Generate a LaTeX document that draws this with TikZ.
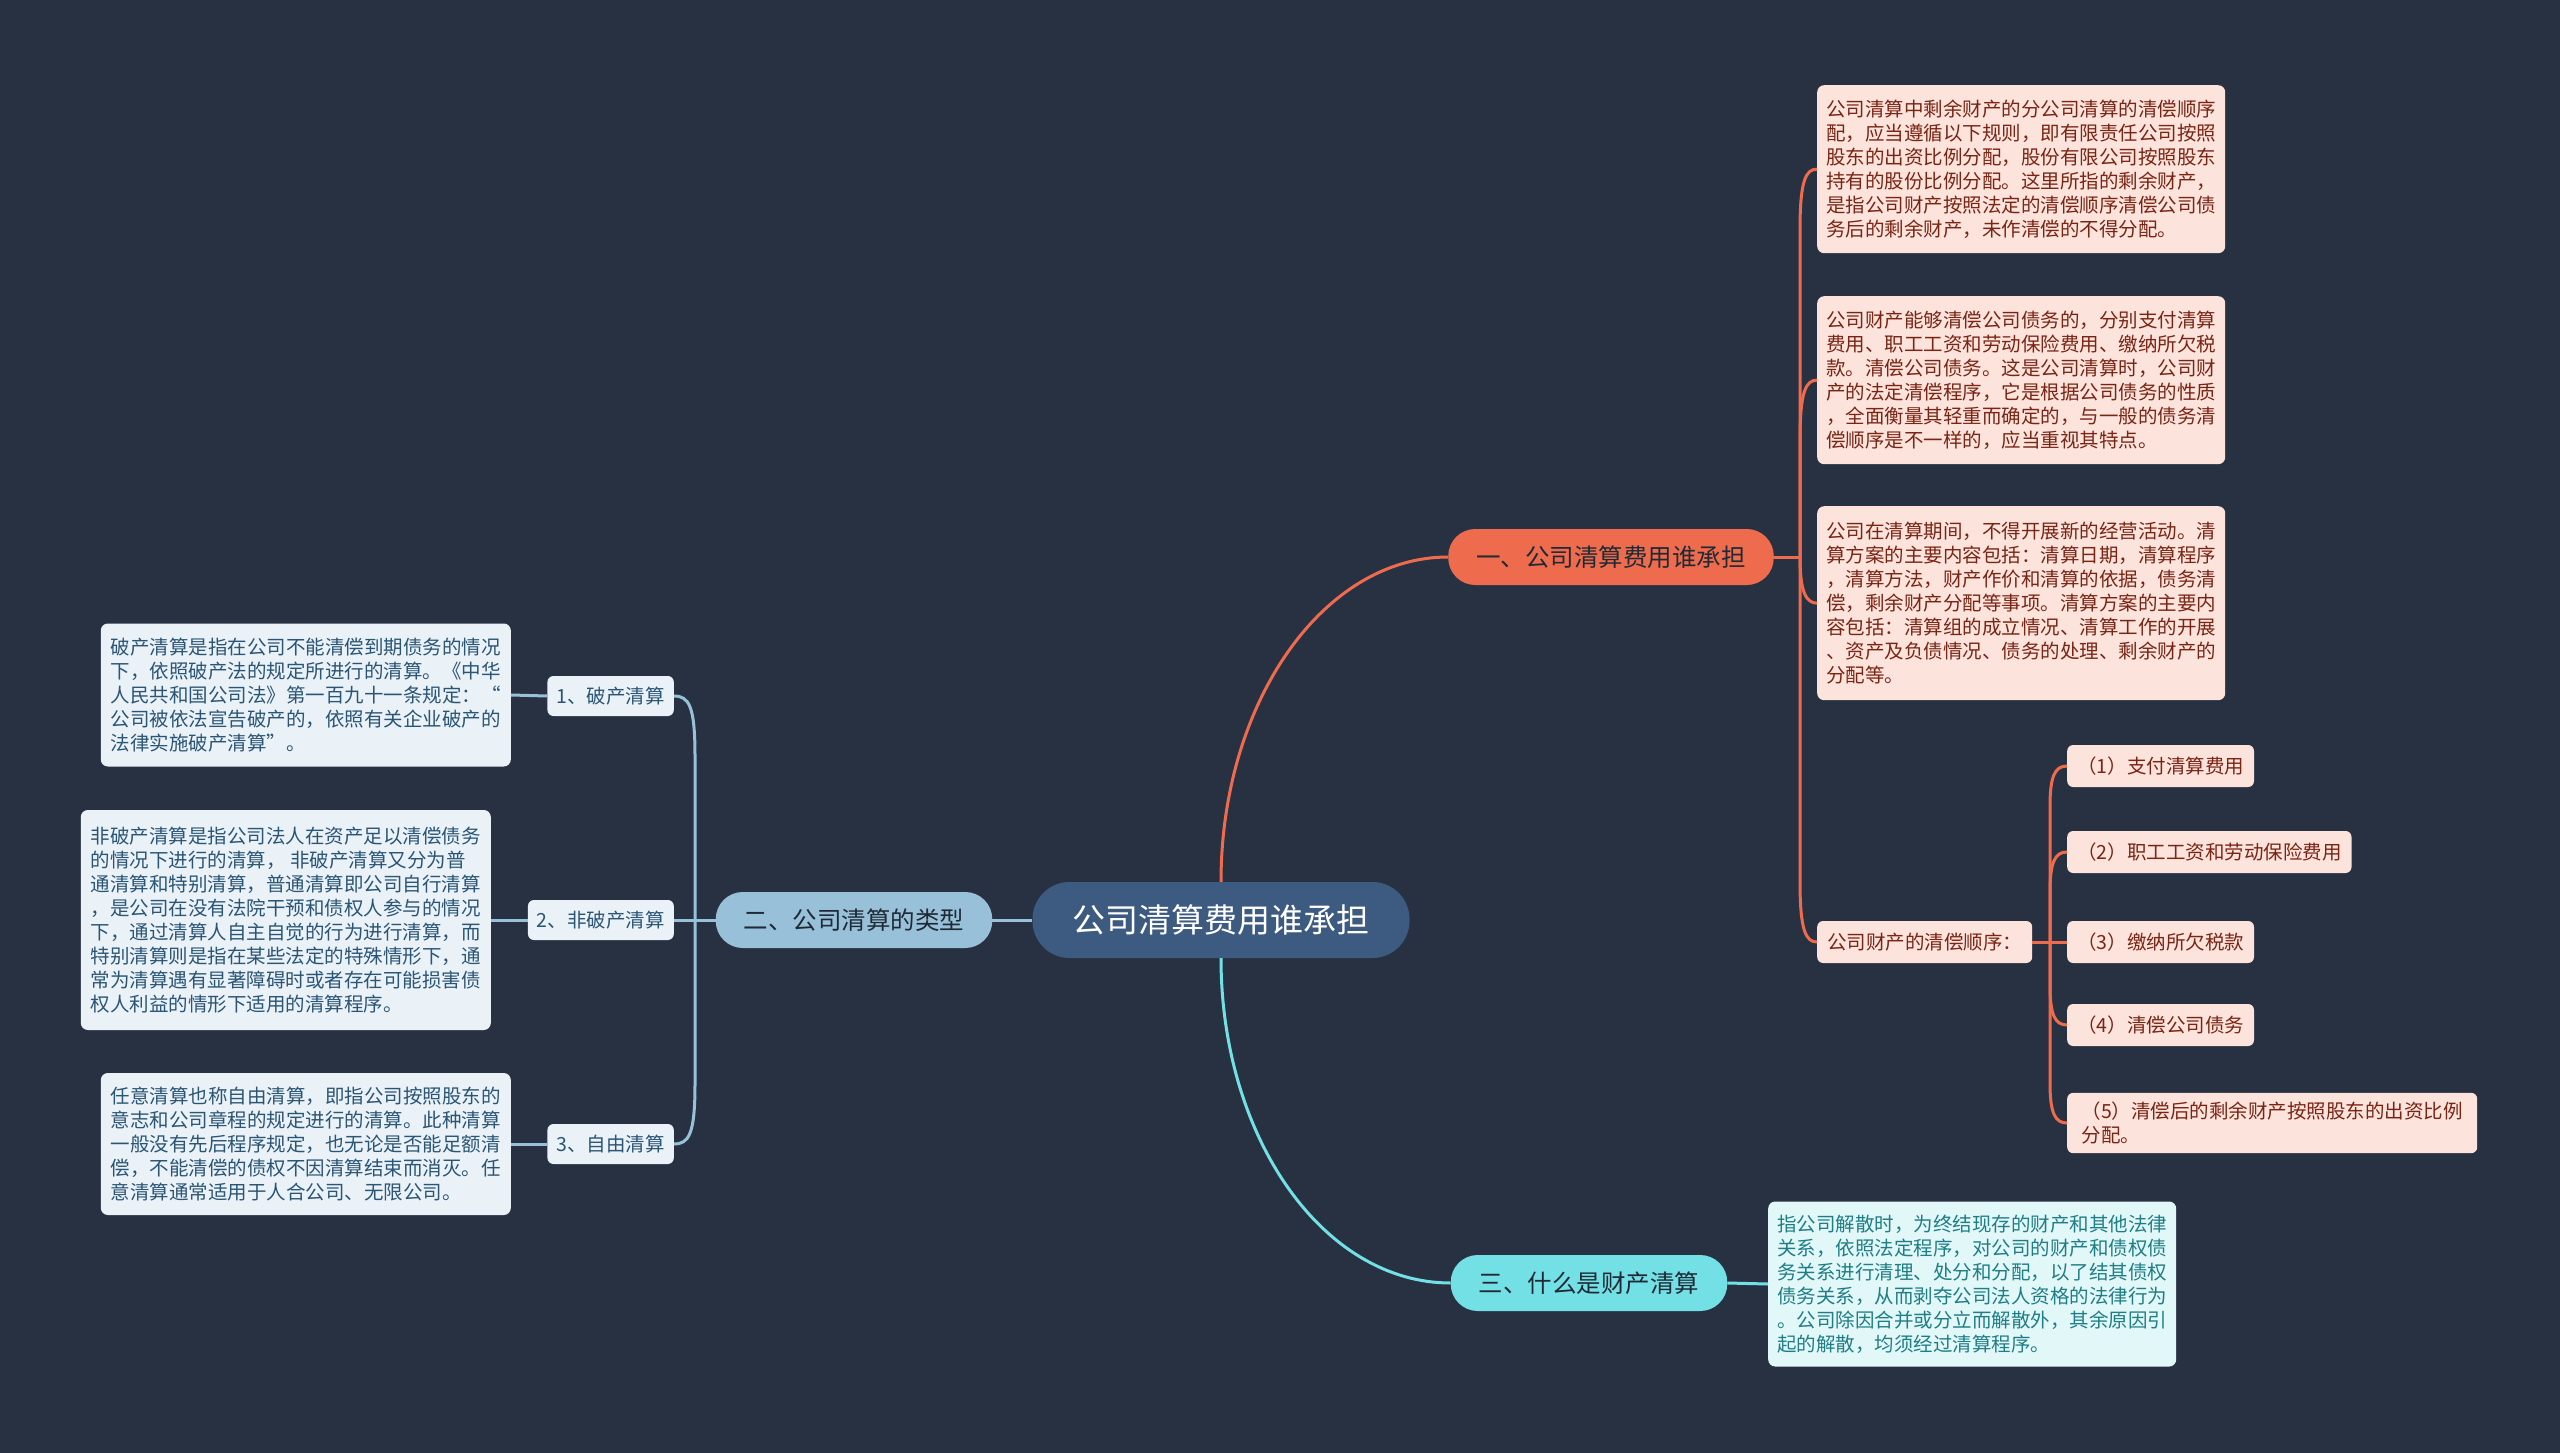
\documentclass[tikz,border=0pt]{standalone}
\usepackage{fontspec}
\setmainfont{Noto Sans CJK SC}
\definecolor{bg}{HTML}{283142}
\definecolor{rootc}{HTML}{3D5A80}
\definecolor{orangec}{HTML}{EE6C4D}
\definecolor{tealc}{HTML}{73E0E6}
\definecolor{lbluec}{HTML}{98C1D9}
\definecolor{pinkfill}{HTML}{FCE4DD}
\definecolor{redtext}{HTML}{7A2414}
\definecolor{bluefill}{HTML}{EAF2F8}
\definecolor{bluetext}{HTML}{2A5574}
\definecolor{cyanfill}{HTML}{E2F7F8}
\definecolor{tealtext}{HTML}{1F7E85}
\definecolor{darktext}{HTML}{1F2A36}
\tikzset{
  txtbox/.style={rounded corners=7, inner xsep=9, inner ysep=12, align=left,
    font=\fontsize{19.5}{24}\selectfont},
  rbox/.style={txtbox, fill=pinkfill, text=redtext, minimum width=408},
  lbox/.style={txtbox, fill=bluefill, text=bluetext, minimum width=410},
  cbox/.style={txtbox, fill=cyanfill, text=tealtext, minimum width=408},
  snode/.style={rounded corners=6, inner xsep=10, inner ysep=0, minimum height=42,
    align=left, font=\fontsize{19.5}{24}\selectfont, fill=pinkfill, text=redtext},
  nnode/.style={rounded corners=6, inner xsep=9, inner ysep=0, minimum height=40,
    font=\fontsize{19.5}{24}\selectfont, fill=bluefill, text=bluetext},
  lvlone/.style={rounded corners=27, minimum height=56, inner xsep=28, inner ysep=0,
    font=\fontsize{24.5}{28}\selectfont},
  rootnode/.style={rounded corners=37, minimum height=76, inner xsep=40, inner ysep=0,
    fill=rootc, text=white, font=\fontsize{33}{38}\selectfont},
  oconn/.style={draw=orangec, line width=3pt},
  tconn/.style={draw=tealc, line width=3pt},
  lconn/.style={draw=lbluec, line width=3pt},
}
\begin{document}
\begin{tikzpicture}[x=1pt,y=-1pt]
\path[fill=bg] (0,0) rectangle (2560,1453);

% root and level one
\node[rootnode] (root) at (1221,920) {公司清算费用谁承担};
\node[lvlone, fill=orangec, text=darktext] (yi) at (1611,557) {一、公司清算费用谁承担};
\node[lvlone, fill=lbluec, text=darktext] (er) at (854,920) {二、公司清算的类型};
\node[lvlone, fill=tealc, text=darktext] (san) at (1589,1283) {三、什么是财产清算};

% right: text boxes
\node[rbox, anchor=north west, minimum height=168] (r1) at (1817,85) {公司清算中剩余财产的分公司清算的清偿顺序\\配，应当遵循以下规则，即有限责任公司按照\\股东的出资比例分配，股份有限公司按照股东\\持有的股份比例分配。这里所指的剩余财产，\\是指公司财产按照法定的清偿顺序清偿公司债\\务后的剩余财产，未作清偿的不得分配。};
\node[rbox, anchor=north west, minimum height=168] (r2) at (1817,296) {公司财产能够清偿公司债务的，分别支付清算\\费用、职工工资和劳动保险费用、缴纳所欠税\\款。清偿公司债务。这是公司清算时，公司财\\产的法定清偿程序，它是根据公司债务的性质\\，全面衡量其轻重而确定的，与一般的债务清\\偿顺序是不一样的，应当重视其特点。};
\node[rbox, anchor=north west, minimum height=194] (r3) at (1817,506) {公司在清算期间，不得开展新的经营活动。清\\算方案的主要内容包括：清算日期，清算程序\\，清算方法，财产作价和清算的依据，债务清\\偿，剩余财产分配等事项。清算方案的主要内\\容包括：清算组的成立情况、清算工作的开展\\、资产及负债情况、债务的处理、剩余财产的\\分配等。};
\node[snode, anchor=west] (ord) at (1817,942) {公司财产的清偿顺序：};
\node[snode, anchor=west] (s1) at (2067,766) {（1）支付清算费用};
\node[snode, anchor=west] (s2) at (2067,852) {（2）职工工资和劳动保险费用};
\node[snode, anchor=west] (s3) at (2067,942) {（3）缴纳所欠税款};
\node[snode, anchor=west] (s4) at (2067,1025) {（4）清偿公司债务};
\node[snode, anchor=west, inner ysep=9, minimum width=410] (s5) at (2067,1123) {（5）清偿后的剩余财产按照股东的出资比例\\分配。};
\node[cbox, anchor=west, minimum height=165] (c1) at (1768,1284) {指公司解散时，为终结现存的财产和其他法律\\关系，依照法定程序，对公司的财产和债权债\\务关系进行清理、处分和分配，以了结其债权\\债务关系，从而剥夺公司法人资格的法律行为\\。公司除因合并或分立而解散外，其余原因引\\起的解散，均须经过清算程序。};

% left
\node[nnode, anchor=east] (n1) at (674,696) {1、破产清算};
\node[nnode, anchor=east] (n2) at (674,920) {2、非破产清算};
\node[nnode, anchor=east] (n3) at (674,1144) {3、自由清算};
\node[lbox, anchor=east, minimum height=143] (la) at (511,695) {破产清算是指在公司不能清偿到期债务的情况\\下，依照破产法的规定所进行的清算。《中华\\人民共和国公司法》第一百九十一条规定：“\\公司被依法宣告破产的，依照有关企业破产的\\法律实施破产清算”。};
\node[lbox, anchor=east, minimum height=220] (lb) at (491,920) {非破产清算是指公司法人在资产足以清偿债务\\的情况下进行的清算， 非破产清算又分为普\\通清算和特别清算，普通清算即公司自行清算\\，是公司在没有法院干预和债权人参与的情况\\下，通过清算人自主自觉的行为进行清算，而\\特别清算则是指在某些法定的特殊情形下，通\\常为清算遇有显著障碍时或者存在可能损害债\\权人利益的情形下适用的清算程序。};
\node[lbox, anchor=east, minimum height=142] (lc) at (511,1144) {任意清算也称自由清算，即指公司按照股东的\\意志和公司章程的规定进行的清算。此种清算\\一般没有先后程序规定，也无论是否能足额清\\偿，不能清偿的债权不因清算结束而消灭。任\\意清算通常适用于人合公司、无限公司。};

% spine coordinates
\coordinate (sR) at (1800,557);
\coordinate (sO) at (2050,942);
\coordinate (sL) at (695,920);

% root connectors
\draw[oconn] (root.north) .. controls (1221,703) and (1323,557) .. (yi.west);
\draw[tconn] (root.south) .. controls (1221,1137) and (1323,1283) .. (san.west);
\draw[lconn] (root.west) -- (er.east);
\draw[tconn] (san.east) -- (c1.west);

% orange spine
\draw[oconn] (yi.east) -- (sR);
\draw[oconn] (sR) -- (1800,229) .. controls (1800,180) and (1806,169) .. (r1.west);
\draw[oconn] (sR) -- (1800,440) .. controls (1800,391) and (1806,380) .. (r2.west);
\draw[oconn] (sR) .. controls (1800,592) and (1806,603) .. (r3.west);
\draw[oconn] (sR) -- (1800,882) .. controls (1800,931) and (1806,942) .. (ord.west);

% order spine
\draw[oconn] (ord.east) -- (sO);
\draw[oconn] (sO) -- (2050,806) .. controls (2050,776) and (2055,766) .. (s1.west);
\draw[oconn] (sO) -- (2050,892) .. controls (2050,862) and (2055,852) .. (s2.west);
\draw[oconn] (sO) -- (s3.west);
\draw[oconn] (sO) -- (2050,985) .. controls (2050,1015) and (2055,1025) .. (s4.west);
\draw[oconn] (sO) -- (2050,1083) .. controls (2050,1113) and (2055,1123) .. (s5.west);

% left spine
\draw[lconn] (er.west) -- (sL);
\draw[lconn] (sL) -- (695,756) .. controls (695,706) and (689,696) .. (n1.east);
\draw[lconn] (sL) -- (n2.east);
\draw[lconn] (sL) -- (695,1084) .. controls (695,1134) and (689,1144) .. (n3.east);
\draw[lconn] (n1.west) -- (la.east);
\draw[lconn] (n2.west) -- (lb.east);
\draw[lconn] (n3.west) -- (lc.east);
\end{tikzpicture}
\end{document}
